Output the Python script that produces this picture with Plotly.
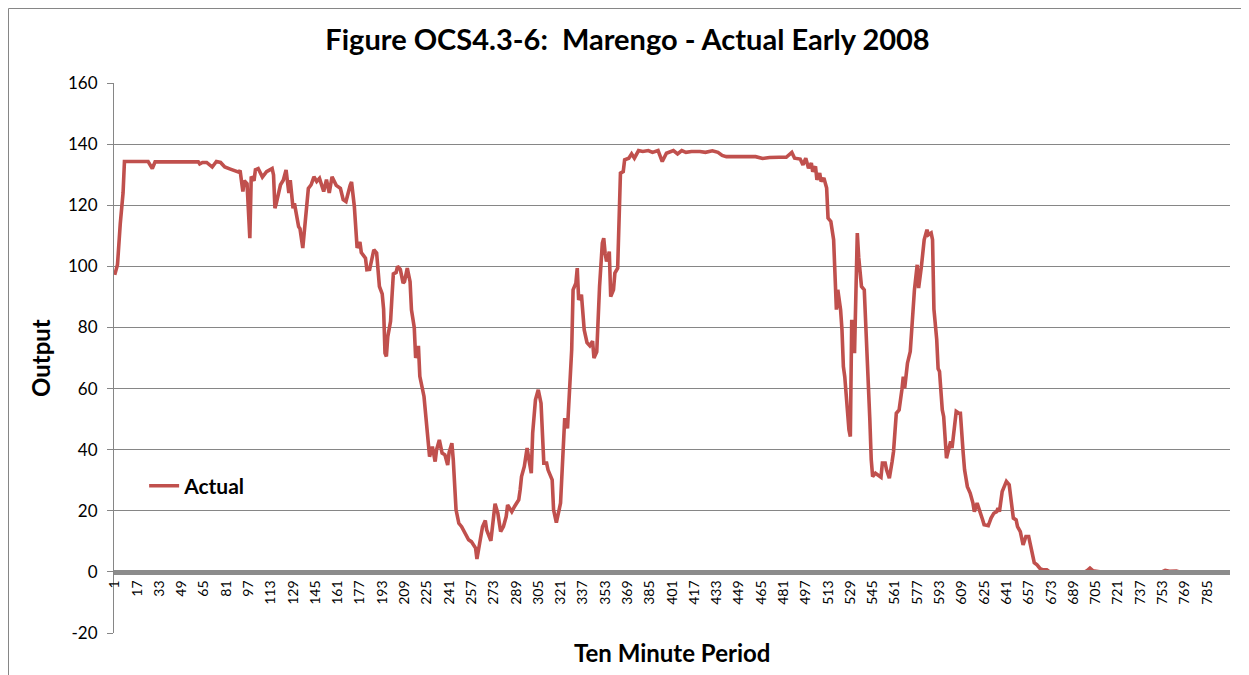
import plotly.graph_objects as go

# ---- data ----
period = [1, 2, 3, 5, 7, 8, 25, 28, 30, 61, 62, 64, 67, 71, 74, 77, 80, 84, 87, 90,
          91, 93, 94, 96, 98, 99, 101, 102, 104, 107, 110, 114, 115, 116, 117, 120, 122, 124, 126, 127,
          129, 130, 133, 134, 136, 138, 140, 142, 144, 146, 148, 151, 153, 155, 157, 160, 163, 165, 167, 170,
          171, 173, 175, 177, 178, 181, 182, 184, 187, 189, 191, 193, 194, 195, 196, 197, 199, 200, 201, 203,
          204, 206, 208, 209, 211, 213, 214, 216, 217, 219, 220, 223, 225, 227, 229, 231, 232, 234, 236, 238,
          240, 241, 243, 244, 246, 248, 250, 252, 255, 257, 260, 261, 263, 265, 267, 268, 271, 272, 274, 276,
          278, 280, 282, 283, 286, 288, 291, 292, 293, 295, 297, 298, 300, 301, 303, 305, 307, 309, 311, 312,
          315, 316, 318, 321, 323, 324, 326, 328, 329, 330, 332, 333, 334, 336, 337, 338, 340, 342, 344, 345,
          347, 349, 351, 352, 353, 354, 356, 357, 359, 360, 362, 364, 366, 367, 370, 372, 374, 377, 380, 384,
          387, 391, 394, 397, 402, 405, 408, 411, 415, 421, 425, 430, 434, 437, 440, 450, 461, 466, 471, 478,
          483, 487, 489, 493, 495, 497, 499, 501, 502, 504, 505, 507, 508, 510, 512, 513, 515, 517, 518, 519,
          520, 522, 523, 524, 525, 527, 528, 529, 530, 532, 534, 535, 537, 539, 540, 541, 543, 544, 545, 547,
          549, 551, 552, 554, 555, 557, 559, 560, 562, 564, 566, 567, 568, 570, 572, 573, 575, 577, 578, 580,
          582, 584, 585, 587, 588, 589, 591, 592, 593, 595, 596, 598, 599, 601, 602, 604, 605, 607, 608, 610,
          611, 613, 615, 617, 618, 620, 622, 624, 625, 628, 630, 632, 634, 635, 636, 638, 639, 641, 643, 645,
          646, 648, 649, 651, 653, 655, 657, 658, 660, 661, 663, 665, 667, 670, 672, 676, 696, 699, 701, 703,
          708, 715, 751, 755, 758, 763, 767, 801]

actual = [97.2, 98.5, 100.5, 114, 124, 134.3, 134.3, 132, 134.2, 134.2, 133.5, 134, 134, 132.5, 134.3, 134, 132.5, 131.8, 131.4, 130.8,
          131.4, 124.5, 128, 127, 109.2, 129.4, 128, 131.6, 132, 129.2, 131, 132, 129.9, 119, 120.6, 126.7, 128.2, 131.5, 124, 128.2,
          119, 120.6, 113, 112.3, 106, 114.4, 125.5, 126.7, 129.3, 127.8, 128.8, 124.5, 128.4, 124, 129.3, 126.5, 125.5, 121.8, 121.2, 126.5,
          127.6, 119.6, 106, 108, 104.5, 102.7, 98.9, 99, 105.4, 104.4, 93.4, 91, 86, 71.6, 70.5, 77, 82, 90, 97.5, 98,
          100, 99, 94.5, 95, 99.4, 95, 85.8, 80, 70, 74, 64, 57.4, 47.6, 37.7, 41, 36.1, 39.9, 43.2, 38.9, 38.3,
          35, 39, 42.1, 36.7, 20.3, 15.9, 14.8, 13.2, 10.5, 9.9, 7.8, 4.2, 10.5, 14.8, 16.8, 13.7, 10.2, 13.7, 22.3, 19.2,
          13.2, 14.8, 18.1, 21.9, 19.7, 21.4, 23.6, 26.8, 31.2, 34.5, 40.5, 37.7, 32.3, 45.4, 56.3, 59.6, 55.2, 35.6, 35.6, 33.4,
          30.1, 20.3, 16.1, 22.5, 41, 50.3, 47, 61.8, 72.7, 92.3, 94.5, 99.4, 89, 90.7, 84.7, 79.2, 75, 74, 75.5, 70,
          72, 93.4, 107.6, 109.2, 104.3, 101.6, 104.8, 90.1, 92.3, 97.8, 99.4, 130.5, 131, 134.9, 135.4, 136.8, 135.4, 137.9, 137.6, 137.9,
          137.3, 137.9, 134.3, 137, 137.9, 136.8, 137.9, 137.3, 137.6, 137.6, 137.3, 137.8, 137.3, 136.3, 135.9, 135.9, 135.9, 135.3, 135.6, 135.7,
          135.7, 137.3, 135.4, 135.1, 133.2, 135.4, 132.1, 133.8, 131, 132.7, 128.3, 130.5, 127.8, 128.9, 125.6, 115.8, 114.7, 108.7, 98.9, 85.8,
          92.3, 85.8, 79.2, 67.2, 63.9, 50.8, 46.5, 44.3, 82.5, 71.6, 110.9, 103, 93.4, 92.3, 82.5, 72.7, 49.8, 36.7, 31.2, 32.3,
          31.5, 31, 35.6, 35.6, 33.4, 30.7, 36.1, 39.4, 51.9, 53, 59.6, 63.9, 60.1, 68.3, 72.1, 80.3, 92.3, 100.5, 92.9, 99.9,
          108.7, 112, 110.3, 110.9, 108.7, 86, 76, 66.5, 65.6, 53, 50.8, 37.2, 39.4, 42.7, 40.5, 50.3, 52.5, 51.9, 51.9, 38.9,
          33.4, 27.9, 25.8, 22.5, 19.7, 22.5, 19.2, 17, 15.4, 15.1, 17.6, 19.2, 19.7, 20.9, 19.7, 26.3, 27.4, 29.6, 28.5, 22.5,
          17.6, 17, 14.8, 13.2, 8.8, 11.6, 11.6, 9.4, 5, 3, 2.3, 1.2, 0.7, 0.7, 0, -0.3, -0.3, 0.4, 1.2, 0.4,
          0, -0.3, -0.3, 0.5, 0.2, 0.3, -0.3, -0.3]

x_tick_values = list(range(1, 786, 16))
x_tick_labels = [str(v) for v in x_tick_values]
y_ticks = [-20, 0, 20, 40, 60, 80, 100, 120, 140, 160]
y_tick_labels = [str(v) for v in y_ticks]

FONT = "Lato"
GRID = "#868686"
W, H = 1241, 667          # page body has an 8px margin
L, T = 106, 75
PW, PH = 1116, 550

fig = go.Figure()
fig.add_trace(go.Scatter(
    x=period, y=actual, mode="lines", name="Actual",
    line=dict(color="#C0504D", width=3.6),
))

fig.update_layout(
    width=W, height=H,
    margin=dict(l=L, r=W - L - PW, t=T, b=H - T - PH),
    paper_bgcolor="white", plot_bgcolor="white",
    font=dict(family=FONT, color="black"),
    title=dict(text="Figure OCS4.3-6:  Marengo - Actual Early 2008",
               x=619.5 / W, xref="container", xanchor="center",
               y=1 - 32 / H, yref="container", yanchor="middle",
               font=dict(family=FONT, size=29, color="black", weight="bold")),
    showlegend=True,
    legend=dict(x=0.027, y=0.267, xanchor="left", yanchor="middle",
                bgcolor="rgba(0,0,0,0)", borderwidth=0,
                font=dict(family=FONT, size=21, color="black", weight="bold")),
    xaxis=dict(
        range=[0.5, 801.5], anchor="free", position=20 / 180,
        showline=True, linewidth=5, linecolor="#8c8c8c",
        showgrid=False, zeroline=False,
        tickmode="array", tickvals=x_tick_values, ticktext=x_tick_labels,
        tickangle=-90, ticks="", tickfont=dict(family=FONT, size=14, color="black"),
        automargin=False,
    ),
    yaxis=dict(
        range=[-20, 160], tickmode="array", tickvals=y_ticks, ticktext=y_tick_labels,
        showgrid=True, gridcolor=GRID, gridwidth=1,
        showline=True, linecolor=GRID, linewidth=1,
        ticks="outside", ticklen=6, tickcolor=GRID, ticklabelstandoff=6,
        zeroline=False, tickfont=dict(family=FONT, size=17, color="black"),
        automargin=False,
    ),
    annotations=[
        dict(text="Ten Minute Period", xref="paper", yref="paper",
             x=0.5, y=(633 - 652) / PH, xanchor="center", yanchor="middle",
             showarrow=False, font=dict(family=FONT, size=24, color="black", weight="bold")),
        dict(text="Output", xref="paper", yref="paper",
             x=(40 - 114) / PW, y=0.5, xanchor="center", yanchor="middle",
             textangle=-90, showarrow=False,
             font=dict(family=FONT, size=24, color="black", weight="bold")),
    ],
    shapes=[
        dict(type="rect", xref="paper", yref="paper",
             x0=-(L - 0.5) / PW, x1=(W + 40 - L) / PW,
             y0=-(H - T - PH + 40) / PH, y1=(PH + T - 0.5) / PH,
             line=dict(color=GRID, width=1), fillcolor="rgba(0,0,0,0)", layer="below"),
    ],
)

fig.write_html("out.html")
